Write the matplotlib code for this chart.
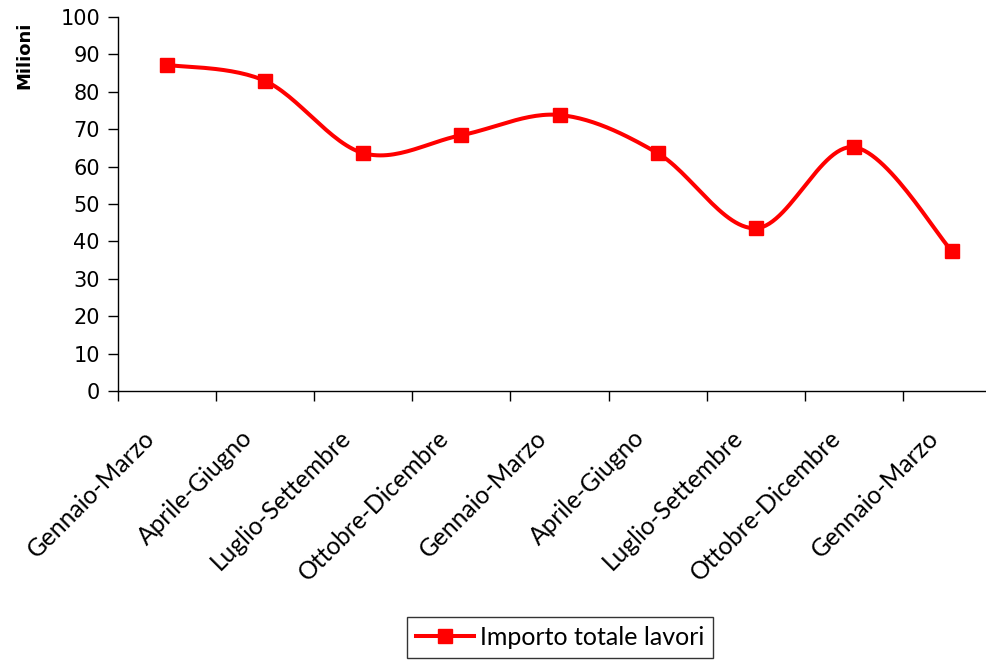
import numpy as np
import matplotlib
matplotlib.use("Agg")
import matplotlib.pyplot as plt

categories = ["Gennaio-Marzo", "Aprile-Giugno", "Luglio-Settembre", "Ottobre-Dicembre",
              "Gennaio-Marzo", "Aprile-Giugno", "Luglio-Settembre", "Ottobre-Dicembre",
              "Gennaio-Marzo"]
values = [87.2, 82.9, 63.6, 68.4, 73.8, 63.6, 43.5, 65.2, 37.4]
series_name = "Importo totale lavori"
y_ticks = [0, 10, 20, 30, 40, 50, 60, 70, 80, 90, 100]


def smooth(xs, ys, n=30, t=1/6):
    xs = np.asarray(xs, float); ys = np.asarray(ys, float)
    px, py = [], []
    for i in range(len(xs) - 1):
        x0, y0 = (xs[i-1], ys[i-1]) if i > 0 else (xs[i], ys[i])
        x1, y1 = xs[i], ys[i]
        x2, y2 = xs[i+1], ys[i+1]
        x3, y3 = (xs[i+2], ys[i+2]) if i + 2 < len(xs) else (xs[i+1], ys[i+1])
        c1x, c1y = x1 + (x2 - x0) * t, y1 + (y2 - y0) * t
        c2x, c2y = x2 - (x3 - x1) * t, y2 - (y3 - y1) * t
        s = np.linspace(0, 1, n)
        bx = (1-s)**3*x1 + 3*(1-s)**2*s*c1x + 3*(1-s)*s**2*c2x + s**3*x2
        by = (1-s)**3*y1 + 3*(1-s)**2*s*c1y + 3*(1-s)*s**2*c2y + s**3*y2
        px.extend(bx); py.extend(by)
    return np.array(px), np.array(py)


fig = plt.figure(figsize=(9.87, 6.64), dpi=100)
ax = fig.add_axes([118/987, (664-391)/664, (1001-118)/987, (391-17)/664])

x = np.arange(len(values))
sx, sy = smooth(x, values)
ax.plot(sx, sy, color="#ff0000", lw=2.9, solid_capstyle="round", zorder=3)
ax.plot(x, values, ls="none", marker="s", ms=9.5, color="#ff0000", zorder=4)
ax.plot([], [], color="#ff0000", lw=2.9, marker="s", ms=9.5, label=series_name)

ax.set_xlim(-0.5, len(values) - 0.5)
ax.set_ylim(0, 100)
ax.set_yticks(y_ticks)
ax.set_yticklabels([str(v) for v in y_ticks], fontsize=15, family="DejaVu Sans")
ax.set_xticks(np.arange(len(values)) - 0.5)
ax.set_xticklabels([])
for i, lab in enumerate(categories):
    ax.annotate(lab, xy=(i, 0), xycoords=("data", "axes fraction"),
                xytext=(-12, -31), textcoords="offset points",
                rotation=45, rotation_mode="anchor", ha="right", va="center",
                fontsize=17.7, family="Lato", annotation_clip=False)
ax.tick_params(axis="x", which="major", direction="out", length=7, width=1, color="black")
ax.tick_params(axis="y", direction="out", length=7, width=1, pad=6)
for s in ["top", "right"]:
    ax.spines[s].set_visible(False)
for s in ["left", "bottom"]:
    ax.spines[s].set_linewidth(1)
    ax.spines[s].set_color("black")

fig.text(24/987, 1 - 55/664, "Milioni", rotation=90, fontsize=13, fontweight="bold",
         ha="center", va="center", family="DejaVu Sans")

leg = fig.legend(loc="upper center", bbox_to_anchor=(560/987, 1 - 617/664), frameon=True,
                 fancybox=False, edgecolor="black", prop={"family": "Lato", "size": 18},
                 handlelength=2.3, handletextpad=0.25, borderpad=0.35, borderaxespad=0)
leg.get_frame().set_linewidth(1)

fig.savefig("out.png", dpi=100)
